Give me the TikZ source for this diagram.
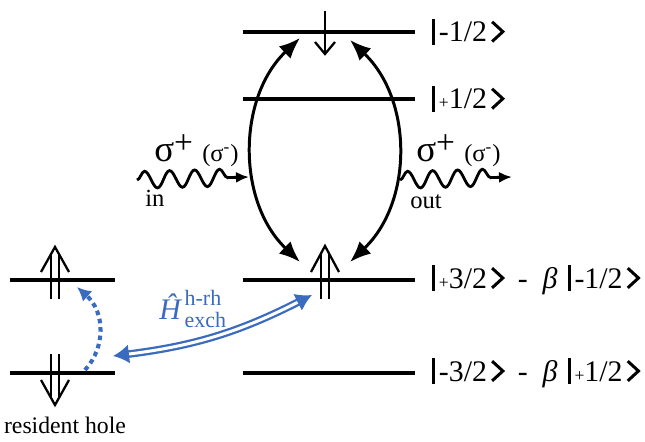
\documentclass[tikz,border=0pt]{standalone}
\usepackage{amsmath}
\usepackage{fontspec}
\setmainfont{Liberation Serif}
\usepackage{tikz}
\usetikzlibrary{arrows.meta,positioning,decorations.pathmorphing}
\definecolor{ExchBlue}{HTML}{3A6BBE}
\newcommand{\ketend}{\tikz[baseline=0pt]\draw[line width=1.7pt,line join=miter,x=1em,y=1em] (0,0.01)--(0.36,0.34)--(0,0.67);}
\newcommand{\ketsym}[1]{\rule[-0.1em]{0.09em}{0.86em}\hspace{0.13em}#1\hspace{0.12em}\ketend}
\newcommand{\plussign}{{\fontsize{10}{10}\selectfont+}}
\newcommand{\sigmapol}{σ\raisebox{0.22em}{\fontsize{19}{19}\selectfont+}\hspace{0.25em}{\fontsize{14}{14}\selectfont(σ\textsuperscript{-})}}
\tikzset{
  level/.style={line width=2.2pt},
  ketlabel/.style={inner sep=0pt,font=\fontsize{17}{20}\selectfont},
  spin/.style={line width=1.3pt,line join=miter},
  trans/.style={{Latex[length=0.42cm,width=0.34cm]}-{Latex[length=0.42cm,width=0.34cm]},line width=1.7pt},
  photon/.style={-{Latex[length=0.26cm,width=0.22cm]},line width=1.6pt,decorate,
    decoration={snake,amplitude=0.17cm,segment length=0.5cm,post length=0.18cm}},
  sigmalabel/.style={inner sep=0pt,anchor=base west,font=\fontsize{21}{24}\selectfont},
  smalltext/.style={inner sep=0pt,anchor=base west,font=\fontsize{14}{17}\selectfont},
  exch/.style={{Latex[length=0.32cm,width=0.38cm]}-{Latex[length=0.32cm,width=0.38cm]},
    draw=ExchBlue,double,double distance=1.7pt,line width=1.3pt},
  flip/.style={-{Latex[length=0.28cm,width=0.28cm]},draw=ExchBlue,line width=2.3pt,
    dash pattern=on 2.6pt off 2.2pt}
}
\begin{document}
\begin{tikzpicture}[x=0.02cm,y=0.02cm,node distance=0.34cm]
  \useasboundingbox (0,0) rectangle (645,442);
  % trion levels
  \coordinate (t1w) at (243,410); \coordinate (t1e) at (415,410);
  \coordinate (t2w) at (243,343); \coordinate (t2e) at (415,343);
  \coordinate (t3w) at (243,162); \coordinate (t3e) at (415,162);
  \coordinate (t4w) at (243,69);  \coordinate (t4e) at (415,69);
  % resident hole levels
  \coordinate (h1w) at (10,162); \coordinate (h1e) at (115,162);
  \coordinate (h2w) at (10,69);  \coordinate (h2e) at (115,69);
  \draw[level] (t1w) -- (t1e);
  \draw[level] (t2w) -- (t2e);
  \draw[level] (t3w) -- (t3e);
  \draw[level] (t4w) -- (t4e);
  \draw[level] (h1w) -- (h1e);
  \draw[level] (h2w) -- (h2e);

  \node[ketlabel,right=of t1e] (k1) {\ketsym{-1/2}};
  \node[ketlabel,right=of t2e] (k2) {\ketsym{\plussign1/2}};
  \node[ketlabel,right=of t3e] (k3) {\ketsym{\plussign3/2}\hspace{0.45em}-\hspace{0.5em}\textit{β}\hspace{0.35em}\ketsym{-1/2}};
  \node[ketlabel,right=of t4e] (k4) {\ketsym{-3/2}\hspace{0.45em}-\hspace{0.5em}\textit{β}\hspace{0.35em}\ketsym{\plussign1/2}};

  % spins
  \draw[spin] (325,431) -- (325,388);
  \draw[spin] (315,400) -- (325,388) -- (335,400);
  \draw[spin] (321,143) -- (321,188);
  \draw[spin] (329,143) -- (329,188);
  \draw[spin] (311,170) -- (325,196) -- (339,170);
  \draw[spin] (51,143) -- (51,187);
  \draw[spin] (59,143) -- (59,187);
  \draw[spin] (41,170) -- (55,195) -- (69,170);
  \draw[spin] (51,88) -- (51,45);
  \draw[spin] (59,88) -- (59,45);
  \draw[spin] (41,62) -- (55,37) -- (69,62);

  % optical transitions
  \coordinate (ab1) at (300,180); \coordinate (at1) at (300,404);
  \coordinate (ab2) at (350,180); \coordinate (at2) at (350,402);
  \draw[trans] (ab1) .. controls (237,240) and (237,344) .. (at1);
  \draw[trans] (ab2) .. controls (413,240) and (413,342) .. (at2);

  \coordinate (inA) at (137,262); \coordinate (inB) at (249,265);
  \coordinate (outA) at (400,262); \coordinate (outB) at (512,265);
  \draw[photon] (inA) -- (inB);
  \draw[photon] (outA) -- (outB);
  \node[sigmalabel] (sigin) at (154,280) {\sigmapol};
  \node[sigmalabel] (sigout) at (416,280) {\sigmapol};
  \node[smalltext] (inlbl) at (145,235) {in};
  \node[smalltext] (outlbl) at (410,233) {out};

  % exchange with resident hole
  \coordinate (rh) at (113,86); \coordinate (tr) at (312,147);
  \draw[exch] (rh) to[bend right=10] (tr);
  \node[ExchBlue,inner sep=0pt,anchor=base west,font=\fontsize{17}{20}\selectfont] (ham) at (159,122)
    {\textit{Ĥ}\hspace{0.08em}\raisebox{-4.5pt}{\fontsize{12.5}{13}\selectfont\begin{tabular}[b]{@{}l@{}}h-rh\\exch\end{tabular}}};
  \coordinate (fa) at (85,72); \coordinate (fb) at (77,155);
  \draw[flip] (fa) .. controls (106,95) and (105,130) .. (fb);
  \node[smalltext,anchor=base,font=\fontsize{13.5}{16}\selectfont] (reslbl) at (65,8) {resident hole};
\end{tikzpicture}
\end{document}
